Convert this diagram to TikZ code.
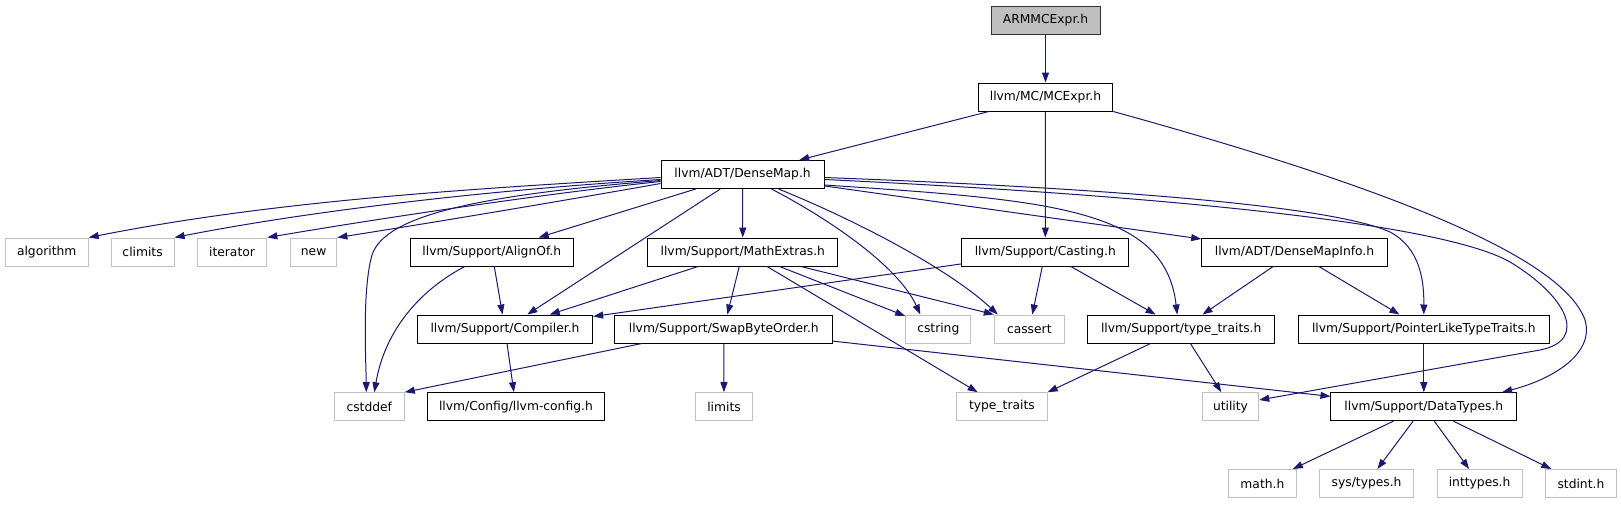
\documentclass[tikz,border=0pt]{standalone}
\usepackage{fontspec}
\setmainfont{DejaVu Sans}
\usetikzlibrary{arrows.meta}
\definecolor{EdgeBlue}{HTML}{191970}
\definecolor{SysGray}{HTML}{C0C0C0}
\definecolor{RootGray}{HTML}{BFBFBF}

\begin{document}
\begin{tikzpicture}[x=1pt,y=-1pt,
every node/.style={font=\fontsize{12.3}{14}\selectfont,inner sep=0pt,minimum height=28pt},
file/.style={draw=black,line width=1pt},
ext/.style={draw=SysGray,line width=1pt},
root/.style={draw=black!80,fill=RootGray,line width=1pt},
inc/.style={-{Triangle[length=10pt,width=7pt]},EdgeBlue,line width=1pt}]
\useasboundingbox (0,0) rectangle (1621,504);
% top of the graph
\node[root,minimum width=109] (root) at (1045.5,20) {ARMMCExpr.h};
\node[file,minimum width=134.5] (mcexpr) at (1045.5,97) {llvm/MC/MCExpr.h};
\node[file,minimum width=163] (densemap) at (742.6,174.5) {llvm/ADT/DenseMap.h};
% third row
\node[ext,minimum width=83] (algorithm) at (46.7,252) {algorithm};
\node[ext,minimum width=63] (climits) at (142.6,252) {climits};
\node[ext,minimum width=69.7] (iterator) at (232,252) {iterator};
\node[ext,minimum width=46.6] (new) at (313.6,252) {new};
\node[file,minimum width=163] (alignof) at (491.8,252) {llvm/Support/AlignOf.h};
\node[file,minimum width=190.3] (mathextras) at (742.8,252) {llvm/Support/MathExtras.h};
\node[file,minimum width=166.7] (casting) at (1045.3,252) {llvm/Support/Casting.h};
\node[file,minimum width=185.6] (densemapinfo) at (1294.5,252) {llvm/ADT/DenseMapInfo.h};
% fourth row
\node[file,minimum width=175.3] (compiler) at (505,329) {llvm/Support/Compiler.h};
\node[file,minimum width=217.7] (swapbyte) at (723.8,329) {llvm/Support/SwapByteOrder.h};
\node[ext,minimum width=65.3] (cstring) at (938.3,329) {cstring};
\node[ext,minimum width=70] (cassert) at (1029.3,329) {cassert};
\node[file,minimum width=187] (typetraitsh) at (1181.2,329) {llvm/Support/type\_traits.h};
\node[file,minimum width=251] (pointerlike) at (1423.8,329) {llvm/Support/PointerLikeTypeTraits.h};
% fifth row
\node[ext,minimum width=70] (cstddef) at (369.3,406.7) {cstddef};
\node[file,minimum width=177.8] (llvmconfig) at (515.9,406.7) {llvm/Config/llvm-config.h};
\node[ext,minimum width=56.2] (limits) at (724,406.7) {limits};
\node[ext,minimum width=90.6] (typetraits) at (1001.9,406.7) {type\_traits};
\node[ext,minimum width=56.4] (utility) at (1230.5,406.7) {utility};
\node[file,minimum width=185.7] (datatypes) at (1423.8,406.7) {llvm/Support/DataTypes.h};
% bottom row
\node[ext,minimum width=67.6] (math) at (1262.4,483.5) {math.h};
\node[ext,minimum width=94.5] (systypes) at (1366.6,483.5) {sys/types.h};
\node[ext,minimum width=84.8] (inttypes) at (1479.6,483.5) {inttypes.h};
\node[ext,minimum width=70.7] (stdint) at (1580.9,483.5) {stdint.h};
% includes
\draw[inc] (root) -- (mcexpr);
\draw[inc] (mcexpr) -- (densemap);
\draw[inc] (mcexpr) -- (casting);
\draw[inc] (mcexpr.south east) .. controls (1350,177) and (1560,250) .. (1585,320) .. controls (1595,355) and (1550,380) .. ([xshift=-15]datatypes.north east);
\draw[inc] ([yshift=-3]densemap.west) .. controls (471,189) and (278,200) .. (algorithm.north east);
\draw[inc] ([yshift=-5]densemap.west) .. controls (520,188) and (330,207) .. (climits.north east);
\draw[inc] ([yshift=-7]densemap.west) .. controls (560,192) and (400,215) .. (iterator.north east);
\draw[inc] ([yshift=-9]densemap.west) .. controls (590,196) and (450,220) .. (new.north east);
\draw[inc] ([yshift=-6]densemap.west) .. controls (480,195) and (385,215) .. (372,255) .. controls (362,290) and (366,360) .. ([xshift=-3]cstddef.north);
\draw[inc] (densemap) -- (alignof);
\draw[inc] (densemap) -- (compiler);
\draw[inc] (densemap) -- (mathextras);
\draw[inc] ([xshift=29]densemap.south) .. controls (840,225) and (900,270) .. ([xshift=-18]cstring.north);
\draw[inc] ([xshift=36]densemap.south) .. controls (860,222) and (950,270) .. ([xshift=4]cassert.north west);
\draw[inc] ([yshift=-10.5]densemap.east) .. controls (1050,200) and (1165,208) .. ([xshift=-4]typetraitsh.north);
\draw[inc] (densemap) -- (densemapinfo);
\draw[inc] ([yshift=-3]densemap.east) .. controls (1100,188) and (1330,205) .. (1390,232) .. controls (1420,248) and (1424,280) .. (pointerlike.north);
\draw[inc] ([yshift=-5]densemap.east) .. controls (1150,195) and (1440,222) .. (1510,262) .. controls (1565,295) and (1590,340) .. (1540,350) -- ([yshift=6.7]utility.east);
\draw[inc] (casting) -- (compiler);
\draw[inc] (casting) -- (cassert);
\draw[inc] (casting) -- (typetraitsh);
\draw[inc] (densemapinfo) -- (typetraitsh);
\draw[inc] (densemapinfo) -- (pointerlike);
\draw[inc] ([xshift=-27]alignof.south) .. controls (420,290) and (385,330) .. ([xshift=5]cstddef.north);
\draw[inc] (alignof) -- (compiler);
\draw[inc] (mathextras) -- (compiler);
\draw[inc] (mathextras) -- (swapbyte);
\draw[inc] (mathextras) -- (cstring);
\draw[inc] (mathextras) -- (cassert.north west);
\draw[inc] (mathextras) -- (typetraits);
\draw[inc] (compiler) -- (llvmconfig);
\draw[inc] ([xshift=-82]swapbyte.south) -- (cstddef.north east);
\draw[inc] (swapbyte) -- (limits);
\draw[inc] (swapbyte) -- (datatypes);
\draw[inc] (typetraitsh) -- (typetraits.north east);
\draw[inc] (typetraitsh) -- (utility);
\draw[inc] (pointerlike) -- (datatypes);
\foreach \t in {math,systypes,inttypes,stdint}
  \draw[inc] (datatypes) -- (\t);
\end{tikzpicture}
\end{document}
